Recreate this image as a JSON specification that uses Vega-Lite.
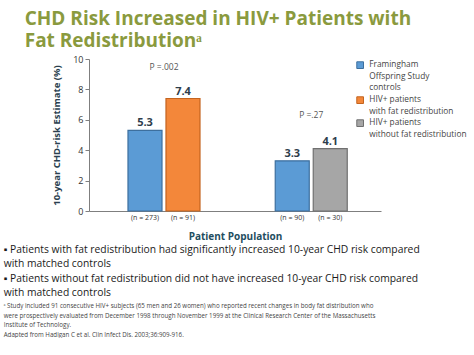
{
  "$schema": "https://vega.github.io/schema/vega-lite/v6.json",
  "background": "white",
  "padding": {"left": 3, "top": 10, "right": 0, "bottom": 0},
  "config": {
    "view": {"stroke": null},
    "font": "Open Sans",
    "axis": {"labelOverlap": false},
    "axisY": {"tickCount": 10, "labelOverlap": false, "labelSeparation": 0, "labelLineHeight": 8},
    "style": {"guide-label": {"lineHeight": 11.5}}
  },
  "title": {
    "text": ["CHD Risk Increased in HIV+ Patients with", "Fat Redistributionᵃ"],
    "anchor": "start",
    "font": "Open Sans",
    "fontSize": 19,
    "fontWeight": "bold",
    "color": "#8a9a3e",
    "lineHeight": 22,
    "dx": 21,
    "offset": 4
  },
  "vconcat": [
    {
      "width": 292,
      "height": 152,
      "title": {
        "text": [
          "▪  Patients with fat redistribution had significantly increased 10-year CHD risk compared",
          "     with matched controls",
          "▪  Patients without fat redistribution did not have increased 10-year CHD risk compared",
          "     with matched controls"
        ],
        "subtitle": [
          "  ᵃ Study included 91 consecutive HIV+ subjects (65 men and 26 women) who reported recent changes in body fat distribution who",
          "     were prospectively evaluated from December 1998 through November 1999 at the Clinical Research Center of the Massachusetts",
          "     Institute of Technology.",
          "  Adapted from Hadigan C et al. Clin Infect Dis. 2003;36:909-916."
        ],
        "orient": "bottom",
        "anchor": "start",
        "font": "Open Sans",
        "fontSize": 10.3,
        "fontWeight": "normal",
        "color": "#1a1a1a",
        "lineHeight": 14.3,
        "subtitleFont": "Open Sans",
        "subtitleFontSize": 6.2,
        "subtitleColor": "#444444",
        "subtitleLineHeight": 9.5,
        "subtitlePadding": 5,
        "dx": -48,
        "offset": 4
      },
      "data": {
        "values": [
          {"group": "fat", "slot": "a", "series": "Framingham\nOffspring  Study\ncontrols", "value": 5.3, "n": "(n = 273)"},
          {"group": "fat", "slot": "b", "series": "HIV+ patients\nwith fat redistribution", "value": 7.4, "n": "(n = 91)"},
          {"group": "nofat", "slot": "a", "series": "Framingham\nOffspring  Study\ncontrols", "value": 3.3, "n": "(n = 90)"},
          {"group": "nofat", "slot": "b", "series": "HIV+ patients\nwithout fat redistribution", "value": 4.1, "n": "(n = 30)"}
        ]
      },
      "encoding": {
        "x": {
          "field": "group",
          "type": "nominal",
          "scale": {"paddingInner": 0.511, "paddingOuter": 0.247, "align": 0.536},
          "axis": {
            "title": "Patient Population",
            "labels": false,
            "ticks": false,
            "domainColor": "#7f7f7f",
            "titleFontSize": 10,
            "titleFontWeight": "bold",
            "titleColor": "#1f4e5f",
            "titlePadding": 20
          }
        },
        "xOffset": {"field": "slot", "type": "nominal", "scale": {"paddingInner": 0.105, "paddingOuter": 0}},
        "y": {
          "field": "value",
          "type": "quantitative",
          "scale": {"domain": [0, 10]},
          "axis": {
            "title": "10-year CHD-risk Estimate (%)",
            "values": [0, 1, 2, 3, 4, 5, 6, 7, 8, 9, 10],
            "labelOverlap": false,
            "labelSeparation": 0,
            "labelLineHeight": 8,
            "grid": false,
            "domainColor": "#7f7f7f",
            "tickColor": "#7f7f7f",
            "tickSize": 4,
            "labelFontSize": 9,
            "labelColor": "#333333",
            "labelPadding": 2,
            "titleFontSize": 9.5,
            "titleFontWeight": "bold",
            "titleColor": "#2b3f4f",
            "titlePadding": 11
          }
        }
      },
      "layer": [
        {
          "mark": {"type": "bar", "strokeWidth": 1.2},
          "encoding": {
            "color": {
              "field": "series",
              "type": "nominal",
              "scale": {
                "domain": ["Framingham\nOffspring  Study\ncontrols", "HIV+ patients\nwith fat redistribution", "HIV+ patients\nwithout fat redistribution"],
                "range": ["#5b9bd5", "#f3873a", "#a6a6a6"]
              },
              "legend": {
                "title": null,
                "orient": "none",
                "legendX": 267,
                "legendY": 2,
                "symbolType": "square",
                "symbolSize": 45,
                "symbolStrokeWidth": 1,
                "labelFontSize": 8.3,
                "labelColor": "#444444",
                "labelLimit": 300,
                "labelOffset": 5,
                "rowPadding": 2,
                "labelExpr": "split(datum.label, '\\n')"
              }
            },
            "stroke": {
              "field": "series",
              "type": "nominal",
              "scale": {
                "domain": ["Framingham\nOffspring  Study\ncontrols", "HIV+ patients\nwith fat redistribution", "HIV+ patients\nwithout fat redistribution"],
                "range": ["#3d6f9e", "#c4641f", "#707070"]
              },
              "legend": null
            }
          }
        },
        {
          "mark": {"type": "text", "dy": -7, "fontWeight": "bold", "fontSize": 11, "color": "#2e3d4c"},
          "encoding": {
            "text": {"field": "value", "type": "quantitative", "format": ".1f"}
          }
        },
        {
          "mark": {"type": "text", "baseline": "top", "dy": 3, "fontSize": 7, "color": "#333333"},
          "encoding": {
            "y": {"datum": 0},
            "text": {"field": "n"}
          }
        },
        {
          "data": {"values": [{"group": "fat", "p": "P =.002", "pos": 9.5}, {"group": "nofat", "p": "P =.27", "pos": 6.3}]},
          "mark": {"type": "text", "fontSize": 8.5, "color": "#555555"},
          "encoding": {
            "x": {"field": "group", "type": "nominal"},
            "xOffset": null,
            "y": {"field": "pos", "type": "quantitative"},
            "text": {"field": "p"}
          }
        }
      ]
    }
  ]
}
